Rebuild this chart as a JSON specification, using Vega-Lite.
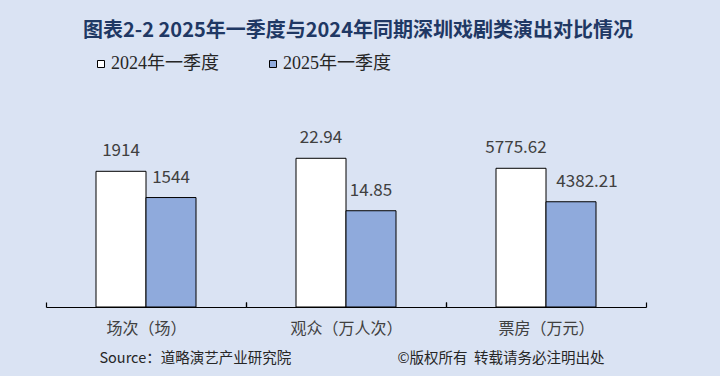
{
  "$schema": "https://vega.github.io/schema/vega-lite/v6.json",
  "background": "#dae3f3",
  "padding": {"left": 45, "right": 75, "top": 21, "bottom": 10},
  "bounds": "flush",
  "spacing": 0,
  "title": {
    "text": "图表2-2  2025年一季度与2024年同期深圳戏剧类演出对比情况",
    "font": "Noto Sans CJK SC",
    "fontSize": 20,
    "fontWeight": "bold",
    "color": "#1f3864",
    "anchor": "middle",
    "dx": 12,
    "offset": 14
  },
  "data": {
    "values": [
      {"cat": "场次（场）", "year": "2024年一季度", "value": 1914},
      {"cat": "场次（场）", "year": "2025年一季度", "value": 1544},
      {"cat": "观众（万人次）", "year": "2024年一季度", "value": 22.94},
      {"cat": "观众（万人次）", "year": "2025年一季度", "value": 14.85},
      {"cat": "票房（万元）", "year": "2024年一季度", "value": 5775.62},
      {"cat": "票房（万元）", "year": "2025年一季度", "value": 4382.21}
    ]
  },
  "config": {
    "view": {"stroke": null},
    "axisX": {
      "domainColor": "#000000",
      "domainWidth": 1.2,
      "tickColor": "#000000",
      "tickWidth": 1.2,
      "tickSize": -5,
      "tickBand": "extent",
      "labelFont": "Noto Sans CJK SC",
      "labelFontSize": 16,
      "labelColor": "#404040",
      "labelPadding": 18,
      "labelAngle": 0,
      "title": null,
      "grid": false
    },
    "legend": {
      "orient": "none",
      "legendX": 46,
      "legendY": -102,
      "direction": "horizontal",
      "symbolType": "square",
      "symbolSize": 49,
      "symbolStrokeColor": "#000000",
      "symbolStrokeWidth": 1,
      "labelFont": "Liberation Serif, Noto Sans CJK SC",
      "labelFontSize": 18,
      "labelColor": "#262626",
      "labelOffset": 1,
      "columnPadding": 45,
      "title": null
    },
    "title": {
      "font": "Noto Sans CJK SC",
      "fontSize": 14.5,
      "fontWeight": "normal",
      "color": "#262626"
    }
  },
  "resolve": {"scale": {"color": "shared"}},
  "hconcat": [
    {
      "width": 200,
      "height": 150,
      "title": {"text": "Source：道略演艺产业研究院", "orient": "bottom", "anchor": "start", "dx": 54, "offset": 16},
      "transform": [{"filter": "datum.cat === '场次（场）'"}],
      "encoding": {
        "x": {"field": "cat", "type": "nominal", "scale": {"paddingInner": 0, "paddingOuter": 0}},
        "xOffset": {"field": "year", "type": "nominal", "scale": {"paddingInner": 0, "paddingOuter": 1.0833}},
        "y": {"field": "value", "type": "quantitative", "scale": {"domain": [0, 2115.7], "nice": false}, "axis": null}
      },
      "layer": [
        {
          "mark": {"type": "bar", "stroke": "#000000", "strokeWidth": 1},
          "encoding": {
            "color": {"field": "year", "type": "nominal", "scale": {"domain": ["2024年一季度", "2025年一季度"], "range": ["#ffffff", "#8faadc"]}}
          }
        },
        {
          "mark": {"type": "text", "dy": -20, "baseline": "middle", "font": "Noto Sans CJK SC", "fontSize": 17, "color": "#404040"},
          "encoding": {"text": {"field": "value", "type": "nominal"}}
        }
      ]
    },
    {
      "width": 200,
      "height": 150,
      "title": {"text": "©版权所有\u00a0\u00a0转载请务必注明出处", "orient": "bottom", "anchor": "start", "dx": 152, "offset": 16},
      "transform": [{"filter": "datum.cat === '观众（万人次）'"}],
      "encoding": {
        "x": {"field": "cat", "type": "nominal", "scale": {"paddingInner": 0, "paddingOuter": 0}},
        "xOffset": {"field": "year", "type": "nominal", "scale": {"paddingInner": 0, "paddingOuter": 1.0833}},
        "y": {"field": "value", "type": "quantitative", "scale": {"domain": [0, 23.14], "nice": false}, "axis": null}
      },
      "layer": [
        {
          "mark": {"type": "bar", "stroke": "#000000", "strokeWidth": 1},
          "encoding": {
            "color": {"field": "year", "type": "nominal", "scale": {"domain": ["2024年一季度", "2025年一季度"], "range": ["#ffffff", "#8faadc"]}}
          }
        },
        {
          "mark": {"type": "text", "dy": -20, "baseline": "middle", "font": "Noto Sans CJK SC", "fontSize": 17, "color": "#404040"},
          "encoding": {"text": {"field": "value", "type": "nominal"}}
        }
      ]
    },
    {
      "width": 200,
      "height": 150,
      "transform": [{"filter": "datum.cat === '票房（万元）'"}],
      "encoding": {
        "x": {"field": "cat", "type": "nominal", "scale": {"paddingInner": 0, "paddingOuter": 0}},
        "xOffset": {"field": "year", "type": "nominal", "scale": {"paddingInner": 0, "paddingOuter": 1.0833}},
        "y": {"field": "value", "type": "quantitative", "scale": {"domain": [0, 6246], "nice": false}, "axis": null}
      },
      "layer": [
        {
          "mark": {"type": "bar", "stroke": "#000000", "strokeWidth": 1},
          "encoding": {
            "color": {"field": "year", "type": "nominal", "scale": {"domain": ["2024年一季度", "2025年一季度"], "range": ["#ffffff", "#8faadc"]}}
          }
        },
        {
          "transform": [{"filter": "datum.year === '2024年一季度'"}],
          "mark": {"type": "text", "dy": -20, "dx": -5, "baseline": "middle", "font": "Noto Sans CJK SC", "fontSize": 17, "color": "#404040"},
          "encoding": {"text": {"field": "value", "type": "nominal"}}
        },
        {
          "transform": [{"filter": "datum.year === '2025年一季度'"}],
          "mark": {"type": "text", "dy": -20, "dx": 16, "baseline": "middle", "font": "Noto Sans CJK SC", "fontSize": 17, "color": "#404040"},
          "encoding": {"text": {"field": "value", "type": "nominal"}}
        }
      ]
    }
  ]
}
